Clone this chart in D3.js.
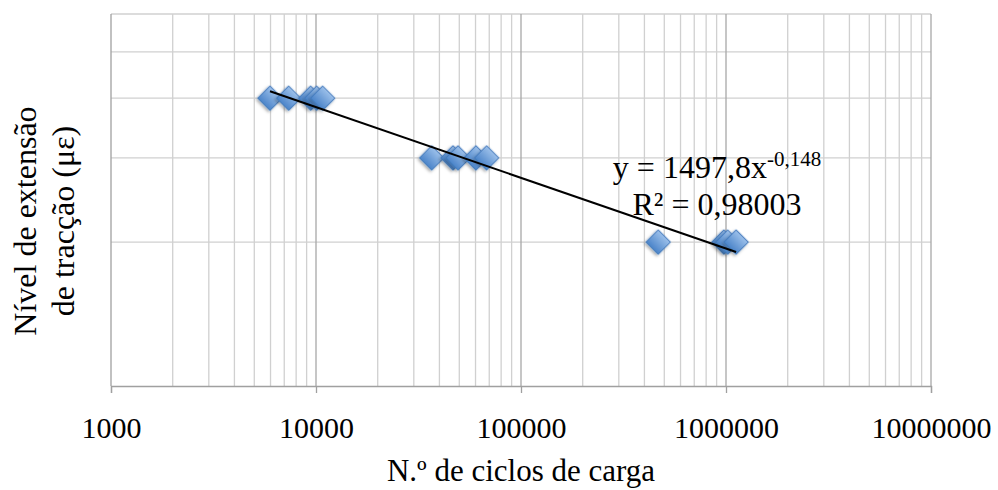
<!DOCTYPE html>
<html>
<head>
<meta charset="utf-8">
<script src="https://cdn.jsdelivr.net/npm/d3@7"></script>
<style>
  body { margin: 0; background: #fff; }
  text { font-family: "Liberation Serif", "Times New Roman", serif; fill: #000; }
</style>
</head>
<body>
<div id="chart"></div>
<script>
// cycles to failure vs. tensile strain level
const ciclos   = [5965, 7360, 9420, 10080, 10780,
                  36700, 46600, 49300, 60300, 68000,
                  467000, 977000, 1020000, 1120000];
const extensao = [400, 400, 400, 400, 400,
                  300, 300, 300, 300, 300,
                  200, 200, 200, 200];
const xTicks = [1000, 10000, 100000, 1000000, 10000000];
const yGrid = [200, 300, 400, 500, 600];
// power trend line y = a * x^b
const fitA = 1497.8;
const fitB = -0.148;
const fitLabel = "y = 1497,8x";
const fitExp = "-0,148";
const r2Label = "R² = 0,98003";

const width = 998, height = 490;
const margin = {top: 14, right: 67, bottom: 104, left: 111};
const w = width - margin.left - margin.right;
const h = height - margin.top - margin.bottom;

const svg = d3.select("#chart").append("svg")
    .attr("width", width)
    .attr("height", height);

const defs = svg.append("defs");
const grad = defs.append("linearGradient")
    .attr("id", "mk").attr("x1", 0).attr("y1", 0).attr("x2", 0).attr("y2", 1);
grad.append("stop").attr("offset", "0%").attr("stop-color", "#9cc0ea");
grad.append("stop").attr("offset", "100%").attr("stop-color", "#4b84c9");
const filt = defs.append("filter").attr("id", "sh")
    .attr("x", "-50%").attr("y", "-50%").attr("width", "200%").attr("height", "200%");
filt.append("feDropShadow")
    .attr("dx", 0).attr("dy", 2).attr("stdDeviation", 1.5)
    .attr("flood-color", "#000").attr("flood-opacity", 0.35);

const g = svg.append("g")
    .attr("transform", "translate(" + margin.left + "," + margin.top + ")");

const x = d3.scaleLog().domain([1000, 10000000]).range([0, w]);
const y = d3.scaleLog().domain([100, 600]).range([h, 0]);

// vertical grid: minor 2..9 then decades
let minor = [];
for (let p = 1000; p < 10000000; p *= 10) {
    for (let k = 2; k <= 9; k++) minor.push(p * k);
}
g.append("g").selectAll("line")
    .data(minor)
    .join("line")
    .attr("x1", d => x(d)).attr("x2", d => x(d))
    .attr("y1", 0).attr("y2", h)
    .attr("stroke", "#d0d0d0").attr("stroke-width", 1.3);

g.append("g").selectAll("line")
    .data(yGrid)
    .join("line")
    .attr("x1", 0).attr("x2", w)
    .attr("y1", d => y(d)).attr("y2", d => y(d))
    .attr("stroke", "#d0d0d0").attr("stroke-width", 1.3);

g.append("g").selectAll("line")
    .data(xTicks.slice(1))
    .join("line")
    .attr("x1", d => x(d)).attr("x2", d => x(d))
    .attr("y1", 0).attr("y2", h)
    .attr("stroke", "#a8a8a8").attr("stroke-width", 1.3);

// y axis line (no labels)
g.append("line")
    .attr("x1", 0).attr("x2", 0).attr("y1", 0).attr("y2", h)
    .attr("stroke", "#a0a0a0").attr("stroke-width", 1.3);

// x axis
const xAxis = g.append("g")
    .attr("transform", "translate(0," + h + ")")
    .call(d3.axisBottom(x).tickValues(xTicks).tickFormat(d3.format("d")).tickSize(7).tickPadding(24));
xAxis.select(".domain").attr("stroke", "#a0a0a0").attr("stroke-width", 1.3);
xAxis.selectAll(".tick line").attr("stroke", "#a0a0a0").attr("stroke-width", 1.3);
xAxis.selectAll(".tick text")
    .style("font-family", "'Liberation Serif', serif")
    .style("font-size", "30px")
    .attr("fill", "#000");

// markers
g.append("g").selectAll("path")
    .data(ciclos.map((c, i) => ({c: c, e: extensao[i]})))
    .join("path")
    .attr("d", d3.symbol(d3.symbolSquare, 300))
    .attr("transform", d => "translate(" + x(d.c) + "," + y(d.e) + ") rotate(45)")
    .attr("fill", "url(#mk)")
    .attr("stroke", "#4179bd")
    .attr("stroke-width", 1)
    .attr("filter", "url(#sh)");

// trend line
const xs = d3.extent(ciclos);
g.append("path")
    .datum(xs)
    .attr("d", d3.line().x(d => x(d)).y(d => y(fitA * Math.pow(d, fitB))))
    .attr("fill", "none")
    .attr("stroke", "#000")
    .attr("stroke-width", 2);

// equation
const eq = g.append("text")
    .attr("x", 606).attr("y", 164)
    .attr("text-anchor", "middle")
    .style("font-size", "32px");
eq.append("tspan").text(fitLabel);
eq.append("tspan").attr("dy", -12).style("font-size", "21px").text(fitExp);
g.append("text")
    .attr("x", 606).attr("y", 201)
    .attr("text-anchor", "middle")
    .style("font-size", "32px")
    .text(r2Label);

// axis titles
svg.append("text")
    .attr("x", margin.left + w / 2).attr("y", 481)
    .attr("text-anchor", "middle")
    .style("font-size", "31px")
    .text("N.º de ciclos de carga");

const yt = svg.append("text")
    .attr("transform", "translate(36,221) rotate(-90)")
    .attr("text-anchor", "middle")
    .style("font-size", "32px");
yt.append("tspan").attr("x", 0).attr("y", 0).text("Nível de extensão");
yt.append("tspan").attr("x", 0).attr("y", 38).text("de tracção (με)");
</script>
</body>
</html>
